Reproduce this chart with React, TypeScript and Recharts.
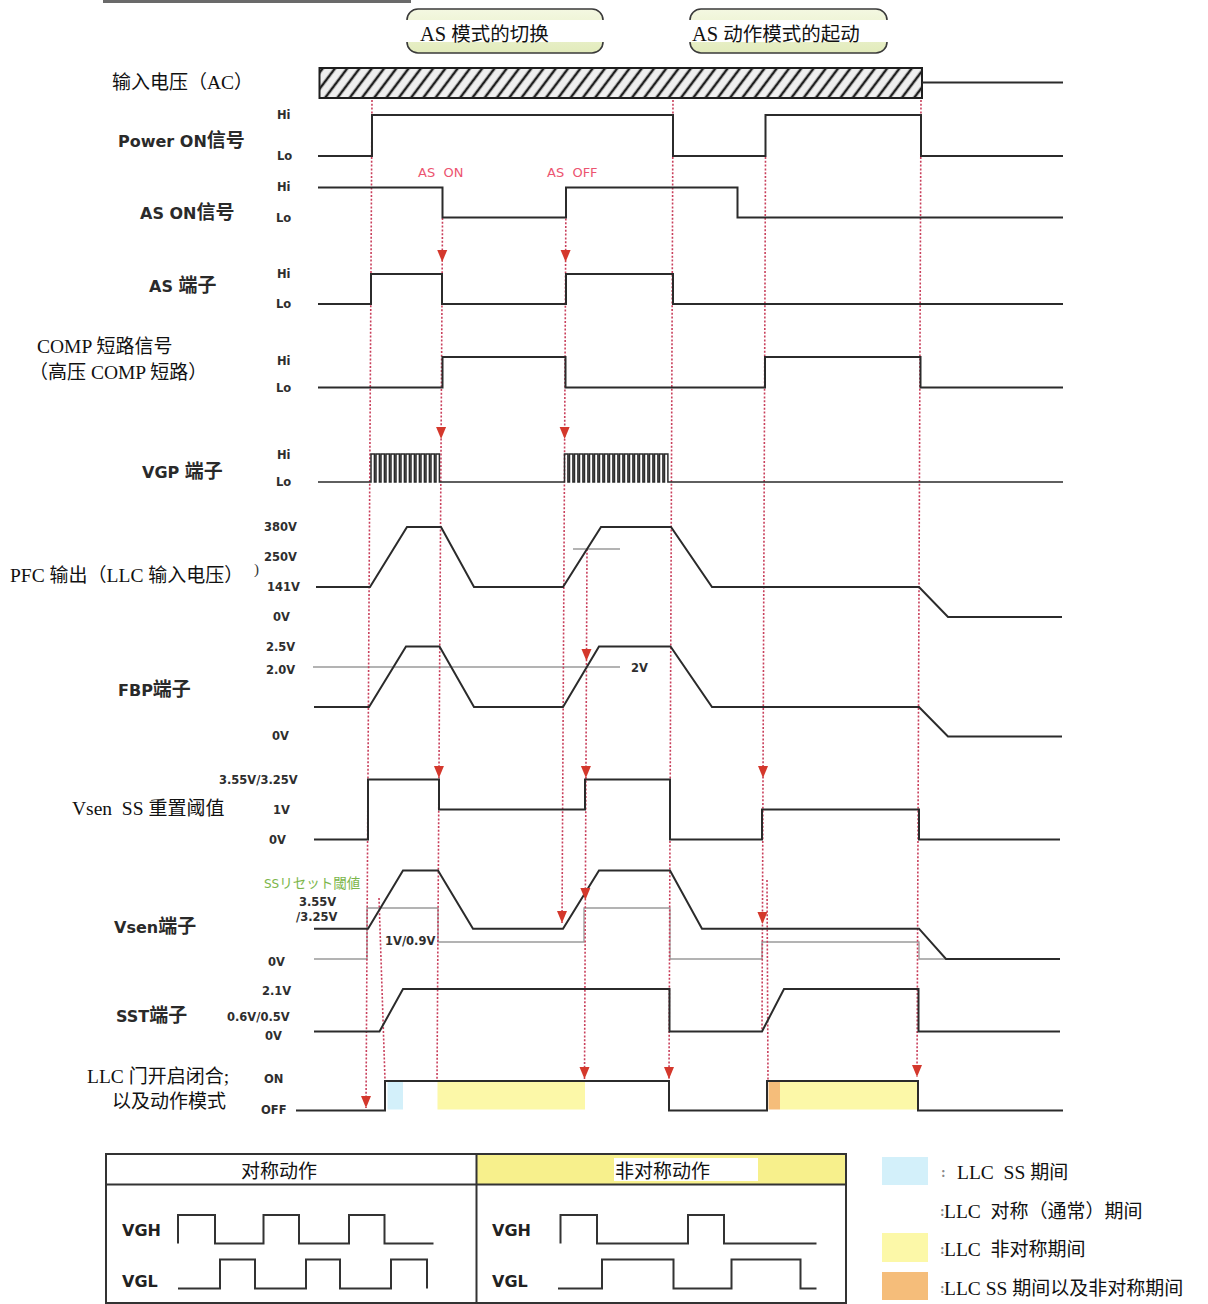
import React from 'react';
import { ComposedChart, Line, XAxis, YAxis, ReferenceArea, Scatter } from 'recharts';

const W = 1208;
const H = 1304;

type Pt = [number, number];

// ================= DATA (time units, signal levels) =================
// Digital signals: 0 = Lo / OFF, 1 = Hi / ON
const POWER_ON: Pt[] = [[0, 0], [5.4, 0], [5.4, 1], [35.5, 1], [35.5, 0], [44.75, 0], [44.75, 1], [60.3, 1], [60.3, 0], [74.5, 0]];
const AS_ON_SIGNAL: Pt[] = [[0, 1], [12.45, 1], [12.45, 0], [24.8, 0], [24.8, 1], [41.95, 1], [41.95, 0], [74.5, 0]];
const AS_PIN: Pt[] = [[0, 0], [5.3, 0], [5.3, 1], [12.4, 1], [12.4, 0], [24.8, 0], [24.8, 1], [35.5, 1], [35.5, 0], [74.5, 0]];
const COMP_SHORT: Pt[] = [[0, 0], [12.45, 0], [12.45, 1], [24.75, 1], [24.75, 0], [44.7, 0], [44.7, 1], [60.25, 1], [60.25, 0], [74.5, 0]];
const VGP_BURST_A = [5.3, 5.8, 6.3, 6.8, 7.3, 7.8, 8.3, 8.8, 9.3, 9.8, 10.3, 10.8, 11.3, 11.8];
const VGP_BURST_B = [24.65, 25.15, 25.65, 26.15, 26.65, 27.15, 27.65, 28.15, 28.65, 29.15, 29.65, 30.15, 30.65, 31.15, 31.65, 32.15, 32.65, 33.15, 33.65, 34.15, 34.65];
const VGP_PULSE_WIDTH = 0.34;
const VGP_END = 74.5;
const LLC_GATE: Pt[] = [[-2.2, 0], [6.7, 0], [6.7, 1], [35.1, 1], [35.1, 0], [44.9, 0], [44.9, 1], [60.0, 1], [60.0, 0], [74.5, 0]];
const AC_AFTER: Pt[] = [[60.4, 0], [74.5, 0]];

// Analog signals (volts)
const PFC_OUT: Pt[] = [[-0.2, 141], [5.2, 141], [8.9, 380], [12.3, 380], [15.6, 141], [24.5, 141], [28.3, 380], [35.3, 380], [39.4, 141], [60.1, 141], [63.0, 0], [74.4, 0]];
const PFC_250_REF: Pt[] = [[25.5, 250], [30.2, 250]];
const FBP_PIN: Pt[] = [[-0.4, 0.85], [5.1, 0.85], [8.8, 2.5], [12.15, 2.5], [15.6, 0.85], [24.5, 0.85], [28.1, 2.5], [35.25, 2.5], [39.4, 0.85], [60.1, 0.85], [63.0, 0], [74.4, 0]];
const FBP_2V_REF: Pt[] = [[-0.5, 2.0], [30.2, 2.0]];
const VSEN_SS_THRESHOLD: Pt[] = [[-0.4, 0], [5.0, 0], [5.0, 3.55], [12.1, 3.55], [12.1, 1], [26.7, 1], [26.7, 3.55], [35.2, 3.55], [35.2, 0], [44.4, 0], [44.4, 1], [60.1, 1], [60.1, 0], [74.2, 0]];
const VSEN_PIN: Pt[] = [[-0.4, 2], [5.0, 2], [8.5, 6.3], [12.0, 6.3], [15.5, 2], [24.5, 2], [28.1, 6.3], [35.2, 6.3], [38.4, 2], [60.1, 2], [62.8, 0], [74.2, 0]];
const VSEN_REF: Pt[] = [[-0.4, 0], [4.9, 0], [4.9, 3.55], [12.0, 3.55], [12.0, 1], [26.6, 1], [26.6, 3.55], [35.2, 3.55], [35.2, 0], [44.4, 0], [44.4, 1], [60.1, 1], [60.1, 0], [62.8, 0]];
const SST_PIN: Pt[] = [[-0.4, 0], [6.15, 0], [8.5, 2.1], [35.15, 2.1], [35.15, 0], [44.4, 0], [46.6, 2.1], [60.05, 2.1], [60.05, 0], [74.2, 0]];

// LLC operating periods [start, end, kind]
const LLC_PERIODS: [number, number, string][] = [[6.95, 8.5, 'ss'], [11.95, 26.7, 'asym'], [45.05, 46.2, 'ssAsym'], [46.2, 59.9, 'asym']];

// Bottom table waveforms (local time units)
const VGH_SYM: Pt[] = [[0, 0], [0, 1], [3.7, 1], [3.7, 0], [8.55, 0], [8.55, 1], [12.1, 1], [12.1, 0], [17.1, 0], [17.1, 1], [20.65, 1], [20.65, 0], [25.55, 0]];
const VGL_SYM: Pt[] = [[0, 0], [4.2, 0], [4.2, 1], [7.7, 1], [7.7, 0], [12.8, 0], [12.8, 1], [16.2, 1], [16.2, 0], [21.3, 0], [21.3, 1], [24.9, 1], [24.9, 0]];
const VGH_ASYM: Pt[] = [[0.25, 0], [0.25, 1], [3.9, 1], [3.9, 0], [13.0, 0], [13.0, 1], [16.6, 1], [16.6, 0], [25.85, 0]];
const VGL_ASYM: Pt[] = [[0, 0], [4.4, 0], [4.4, 1], [11.55, 1], [11.55, 0], [17.35, 0], [17.35, 1], [24.25, 1], [24.25, 0], [25.85, 0]];

// ================= LAYOUT =================
const TIME_X0 = 318;
const TIME_PX = 10;
const tx = (t: number) => TIME_X0 + TIME_PX * t;

const ROWS: Record<string, number[][]> = {
  ac: [[0, 82.5], [1, 68]],
  power: [[0, 156], [1, 115]],
  asOn: [[0, 217.5], [1, 187.5]],
  asPin: [[0, 304], [1, 274]],
  comp: [[0, 387.5], [1, 357]],
  vgp: [[0, 482], [1, 454]],
  pfc: [[0, 617], [141, 587], [250, 549], [380, 527]],
  fbp: [[0, 736.5], [2.0, 667], [2.5, 646.5]],
  vss: [[0, 839.5], [1, 809.5], [3.55, 779.5]],
  vsen: [[0, 959], [1, 942], [3.55, 908], [6.3, 870.5]],
  sst: [[0, 1031.5], [2.1, 989]],
  llc: [[0, 1110.5], [1, 1081]],
};

function mapY(a: number[][], v: number) {
  let i = 0;
  if (v >= a[a.length - 1][0]) i = a.length - 2;
  else if (v > a[0][0]) {
    while (i < a.length - 2 && v > a[i + 1][0]) i++;
  }
  const [v0, y0] = a[i];
  const [v1, y1] = a[i + 1];
  return y0 + ((v - v0) * (y1 - y0)) / (v1 - v0);
}

const wave = (sig: Pt[], row: string) => sig.map(([t, v]) => ({ x: tx(t), y: mapY(ROWS[row], v) }));

function vgpSignal(): Pt[] {
  const pts: Pt[] = [[0, 0]];
  const add = (rises: number[]) =>
    rises.forEach((r) => {
      pts.push([r, 0], [r, 1], [r + VGP_PULSE_WIDTH, 1], [r + VGP_PULSE_WIDTH, 0]);
    });
  add(VGP_BURST_A);
  add(VGP_BURST_B);
  pts.push([VGP_END, 0]);
  return pts;
}

const TABLE_PANELS = { sym: 178, asym: 558 };
const TABLE_ROWS: Record<string, number[][]> = {
  vgh: [[0, 1243.5], [1, 1215]],
  vgl: [[0, 1288.5], [1, 1259.5]],
};
const tableWave = (sig: Pt[], x0: number, row: string) => sig.map(([t, v]) => ({ x: x0 + 10 * t, y: mapY(TABLE_ROWS[row], v) }));

// dotted guide lines (time at top / bottom, vertical extent, arrow tips)
const GUIDES = [
  { t0: 5.4, y0: 100, t1: 4.8, y1: 1108, tips: [1108] },
  { t0: 6.1, y0: 898, t1: 6.7, y1: 1080, tips: [] as number[] },
  { t0: 12.45, y0: 218, t1: 11.9, y1: 1082, tips: [262, 439, 778] },
  { t0: 24.8, y0: 188, t1: 24.4, y1: 923, tips: [262, 439, 923] },
  { t0: 26.9, y0: 549, t1: 26.65, y1: 1079, tips: [661, 778, 900, 1079] },
  { t0: 35.5, y0: 100, t1: 35.1, y1: 1079, tips: [1079] },
  { t0: 44.75, y0: 157, t1: 44.4, y1: 1032, tips: [778, 924] },
  { t0: 44.9, y0: 880, t1: 45.0, y1: 1081, tips: [] as number[] },
  { t0: 60.3, y0: 100, t1: 59.9, y1: 1077, tips: [1077] },
];

const guideX = (g: any, y: number) => tx(g.t0 + ((y - g.y0) / (g.y1 - g.y0)) * (g.t1 - g.t0));

const PERIOD_COLORS: Record<string, string> = { ss: '#d3f0fa', asym: '#fcf8a8', ssAsym: '#f5bd7a' };

// ================= TEXT =================
const SERIF = '"Liberation Serif", "Times New Roman", serif';
const SANS = '"DejaVu Sans", "Liberation Sans", sans-serif';
const CJKF = '"Noto Sans CJK SC", "Noto Sans CJK JP", sans-serif';

type Kind = 'serif' | 'box' | 'label' | 'tick' | 'red' | 'green' | 'table' | 'small' | 'colon';
const STYLES: Record<Kind, { lf: string; ls: number; lw: number; cs: number; cw: number; fill: string }> = {
  serif: { lf: SERIF, ls: 19.5, lw: 400, cs: 19, cw: 400, fill: '#111' },
  box: { lf: SERIF, ls: 20.5, lw: 400, cs: 19.5, cw: 400, fill: '#111' },
  label: { lf: SANS, ls: 16, lw: 700, cs: 19, cw: 700, fill: '#2a2a2a' },
  tick: { lf: SANS, ls: 11.5, lw: 700, cs: 13, cw: 700, fill: '#2e2e2e' },
  red: { lf: SANS, ls: 13, lw: 400, cs: 13, cw: 400, fill: '#ec5470' },
  green: { lf: SANS, ls: 12, lw: 400, cs: 13.5, cw: 400, fill: '#7bb64a' },
  table: { lf: SANS, ls: 16, lw: 700, cs: 16, cw: 700, fill: '#222' },
  small: { lf: SERIF, ls: 15, lw: 400, cs: 15, cw: 400, fill: '#333' },
  colon: { lf: SERIF, ls: 14, lw: 700, cs: 14, cw: 700, fill: '#888' },
};

const TEXTS: [string, number, number, Kind][] = [
  ['AS 模式的切换', 420, 34, 'box'],
  ['AS 动作模式的起动', 692, 34, 'box'],
  ['输入电压（AC）', 112, 82, 'serif'],
  ['Power ON信号', 118, 141, 'label'],
  ['AS ON信号', 140, 213, 'label'],
  ['AS 端子', 149, 286, 'label'],
  ['COMP 短路信号', 37, 346, 'serif'],
  ['（高压 COMP 短路）', 29, 372, 'serif'],
  ['VGP 端子', 142, 472, 'label'],
  ['PFC 输出（LLC 输入电压）', 10, 575, 'serif'],
  [')', 254, 569, 'small'],
  ['FBP端子', 118, 690, 'label'],
  ['Vsen  SS 重置阈值', 72, 808, 'serif'],
  ['Vsen端子', 114, 927, 'label'],
  ['SST端子', 116, 1016, 'label'],
  ['LLC 门开启闭合;', 87, 1076, 'serif'],
  ['以及动作模式', 112, 1101, 'serif'],
  ['AS  ON', 418, 172, 'red'],
  ['AS  OFF', 547, 172, 'red'],
  ['SSリセット閾値', 264, 884, 'green'],
  ['VGH', 122, 1230, 'table'],
  ['VGL', 122, 1281, 'table'],
  ['VGH', 492, 1230, 'table'],
  ['VGL', 492, 1281, 'table'],
  ['对称动作', 241, 1171, 'serif'],
  ['非对称动作', 615, 1171, 'serif'],
  [':', 941, 1172, 'colon'],
  ['LLC  SS 期间', 957, 1172, 'serif'],
  [':', 940, 1211, 'colon'],
  ['LLC  对称（通常）期间', 944, 1211, 'serif'],
  [':', 940, 1249, 'colon'],
  ['LLC  非对称期间', 944, 1249, 'serif'],
  [':', 940, 1288, 'colon'],
  ['LLC SS 期间以及非对称期间', 944, 1288, 'serif'],
];

const TICK_LABELS: [string, number, number][] = [
  ['Hi', 277, 115], ['Lo', 277, 156],
  ['Hi', 277, 187], ['Lo', 276, 218],
  ['Hi', 277, 274], ['Lo', 276, 304],
  ['Hi', 277, 361], ['Lo', 276, 388],
  ['Hi', 277, 455], ['Lo', 276, 482],
  ['380V', 264, 527], ['250V', 264, 557], ['141V', 267, 587], ['0V', 273, 617],
  ['2.5V', 266, 647], ['2.0V', 266, 670], ['0V', 272, 736],
  ['3.55V/3.25V', 219, 780], ['1V', 273, 810], ['0V', 269, 840],
  ['3.55V', 299, 902], ['/3.25V', 296, 917], ['1V/0.9V', 385, 941], ['0V', 268, 962],
  ['2.1V', 262, 991], ['0.6V/0.5V', 227, 1017], ['0V', 265, 1036],
  ['ON', 264, 1079], ['OFF', 261, 1110],
  ['2V', 631, 668],
];

const CJK_RE = /[\u2E80-\u9FFF\uF900-\uFAFF\uFF00-\uFFEF\u3000-\u303F\u3040-\u30FF]/;
function runs(s: string) {
  const out: { s: string; c: boolean }[] = [];
  for (const ch of s) {
    const c = CJK_RE.test(ch);
    if (out.length && out[out.length - 1].c === c) out[out.length - 1].s += ch;
    else out.push({ s: ch, c });
  }
  return out;
}

function TextItem({ s, x, y, kind }: { s: string; x: number; y: number; kind: Kind }) {
  const st = STYLES[kind];
  return (
    <text x={x} y={y + 0.36 * st.ls} fill={st.fill} style={{ whiteSpace: 'pre' }}>
      {runs(s).map((r, i) => (
        <tspan key={i} fontFamily={r.c ? CJKF : st.lf} fontSize={r.c ? st.cs : st.ls} fontWeight={r.c ? st.cw : st.lw}>
          {r.s}
        </tspan>
      ))}
    </text>
  );
}

// ================= SHAPES =================
const ArrowHead = (props: any) => {
  const { cx, cy } = props;
  if (cx == null || cy == null) return null;
  return <path d={`M${cx - 5},${cy - 12} L${cx + 5},${cy - 12} L${cx},${cy} Z`} fill="#d4382c" />;
};

const ModeBox = (props: any) => {
  const { x, y, width, height } = props;
  return (
    <g>
      <rect x={x} y={y} width={width} height={height} rx={11} ry={11} fill="url(#boxGrad)" stroke="#3a3a3a" strokeWidth={1.6} />
      <rect x={x - 1.5} y={y + 11} width={width + 3} height={22} fill="#ffffff" />
    </g>
  );
};

export default function App() {
  const signalLines = [
    { d: wave(POWER_ON, 'power') },
    { d: wave(AS_ON_SIGNAL, 'asOn') },
    { d: wave(AS_PIN, 'asPin') },
    { d: wave(COMP_SHORT, 'comp') },
    { d: wave(PFC_OUT, 'pfc') },
    { d: wave(FBP_PIN, 'fbp') },
    { d: wave(VSEN_SS_THRESHOLD, 'vss') },
    { d: wave(VSEN_PIN, 'vsen') },
    { d: wave(SST_PIN, 'sst') },
    { d: wave(LLC_GATE, 'llc') },
    { d: wave(AC_AFTER, 'ac') },
  ];
  const refLines = [wave(PFC_250_REF, 'pfc'), wave(FBP_2V_REF, 'fbp'), wave(VSEN_REF, 'vsen')];
  const vgp = wave(vgpSignal(), 'vgp');

  const guideLines = GUIDES.map((g) => [
    { x: tx(g.t0), y: g.y0 },
    { x: tx(g.t1), y: g.y1 },
  ]);
  const arrows = GUIDES.flatMap((g) => g.tips.map((y) => ({ x: guideX(g, y), y })));

  const tableWaves = [
    tableWave(VGH_SYM, TABLE_PANELS.sym, 'vgh'),
    tableWave(VGL_SYM, TABLE_PANELS.sym, 'vgl'),
    tableWave(VGH_ASYM, TABLE_PANELS.asym, 'vgh'),
    tableWave(VGL_ASYM, TABLE_PANELS.asym, 'vgl'),
  ];
  const tableRules = [
    [{ x: 106, y: 1184.5 }, { x: 846, y: 1184.5 }],
    [{ x: 476.5, y: 1154 }, { x: 476.5, y: 1304 }],
  ];
  const topRule = [{ x: 103, y: 1.5 }, { x: 411, y: 1.5 }];

  const yTopLLC = mapY(ROWS.llc, 1) + 1;
  const yBotLLC = mapY(ROWS.llc, 0) - 1;

  return (
    <div style={{ position: 'absolute', left: 0, top: 0, width: W, height: H, background: '#ffffff' }}>
      <ComposedChart width={W} height={H} margin={{ top: 0, right: 0, bottom: 0, left: 0 }}>
        <defs>
          <pattern id="hatch" patternUnits="userSpaceOnUse" width="9.8" height="9.8" patternTransform="rotate(37)">
            <rect width="9.8" height="9.8" fill="#efefef" />
            <line x1="4.9" y1="0" x2="4.9" y2="9.8" stroke="#1e1e1e" strokeWidth="2.5" />
          </pattern>
          <linearGradient id="boxGrad" x1="0" y1="0" x2="0" y2="1">
            <stop offset="0%" stopColor="#f4f8e2" />
            <stop offset="100%" stopColor="#e2ebbb" />
          </linearGradient>
        </defs>
        <XAxis type="number" dataKey="x" domain={[0, W]} hide allowDataOverflow />
        <YAxis type="number" dataKey="y" domain={[0, H]} reversed hide allowDataOverflow />

        {/* mode boxes */}
        <ReferenceArea x1={407} x2={603} y1={9} y2={53} shape={ModeBox} ifOverflow="visible" />
        <ReferenceArea x1={690} x2={887} y1={9} y2={53} shape={ModeBox} ifOverflow="visible" />

        {/* AC input hatched bar */}
        <ReferenceArea x1={tx(0.15)} x2={tx(60.4)} y1={68} y2={98} fill="url(#hatch)" fillOpacity={1} stroke="#1e1e1e" strokeWidth={2} />

        {/* LLC periods */}
        {LLC_PERIODS.map(([a, b, k], i) => (
          <ReferenceArea key={'p' + i} x1={tx(a)} x2={tx(b)} y1={yTopLLC} y2={yBotLLC} fill={PERIOD_COLORS[k]} fillOpacity={1} stroke="none" />
        ))}

        {/* table header fills */}
        <ReferenceArea x1={477} x2={845} y1={1155} y2={1184} fill="#f7f08c" fillOpacity={1} stroke="none" />
        <ReferenceArea x1={614} x2={758} y1={1158} y2={1181} fill="#ffffff" fillOpacity={1} stroke="none" />
        <ReferenceArea x1={106} x2={846} y1={1154} y2={1303} fill="none" fillOpacity={0} stroke="#333" strokeWidth={2} />

        {/* legend swatches */}
        <ReferenceArea x1={882} x2={928} y1={1157} y2={1185} fill={PERIOD_COLORS.ss} fillOpacity={1} stroke="none" />
        <ReferenceArea x1={882} x2={928} y1={1191} y2={1220} fill="#ffffff" fillOpacity={1} stroke="none" />
        <ReferenceArea x1={882} x2={928} y1={1233} y2={1262} fill={PERIOD_COLORS.asym} fillOpacity={1} stroke="none" />
        <ReferenceArea x1={882} x2={928} y1={1272} y2={1300} fill={PERIOD_COLORS.ssAsym} fillOpacity={1} stroke="none" />

        {/* reference / threshold lines */}
        {refLines.map((d, i) => (
          <Line key={'r' + i} data={d} dataKey="y" type="linear" dot={false} activeDot={false} stroke="#9a9a9a" strokeWidth={1.3} isAnimationActive={false} legendType="none" />
        ))}

        {/* dotted guides */}
        {guideLines.map((d, i) => (
          <Line key={'g' + i} data={d} dataKey="y" type="linear" dot={false} activeDot={false} stroke="#c9405c" strokeWidth={1.6} strokeDasharray="2 1.8" isAnimationActive={false} legendType="none" />
        ))}

        {/* signals */}
        {signalLines.map((s, i) => (
          <Line key={'s' + i} data={s.d} dataKey="y" type="linear" dot={false} activeDot={false} stroke="#2b2b2b" strokeWidth={2} isAnimationActive={false} legendType="none" />
        ))}
        <Line data={vgp} dataKey="y" type="linear" dot={false} activeDot={false} stroke="#2b2b2b" strokeWidth={1.5} isAnimationActive={false} legendType="none" />

        {/* top decoration rule */}
        <Line data={topRule} dataKey="y" type="linear" dot={false} activeDot={false} stroke="#6a6a6a" strokeWidth={3} isAnimationActive={false} legendType="none" />

        {/* table */}
        {tableRules.map((d, i) => (
          <Line key={'tr' + i} data={d} dataKey="y" type="linear" dot={false} activeDot={false} stroke="#333" strokeWidth={2} isAnimationActive={false} legendType="none" />
        ))}
        {tableWaves.map((d, i) => (
          <Line key={'tw' + i} data={d} dataKey="y" type="linear" dot={false} activeDot={false} stroke="#333" strokeWidth={2} isAnimationActive={false} legendType="none" />
        ))}

        {/* arrow heads */}
        <Scatter data={arrows} shape={ArrowHead} isAnimationActive={false} legendType="none" />
      </ComposedChart>

      <svg width={W} height={H} style={{ position: 'absolute', left: 0, top: 0, pointerEvents: 'none' }}>
        {TEXTS.map(([s, x, y, k], i) => (
          <TextItem key={'t' + i} s={s} x={x} y={y} kind={k} />
        ))}
        {TICK_LABELS.map(([s, x, y], i) => (
          <TextItem key={'k' + i} s={s} x={x} y={y} kind="tick" />
        ))}
      </svg>
    </div>
  );
}
